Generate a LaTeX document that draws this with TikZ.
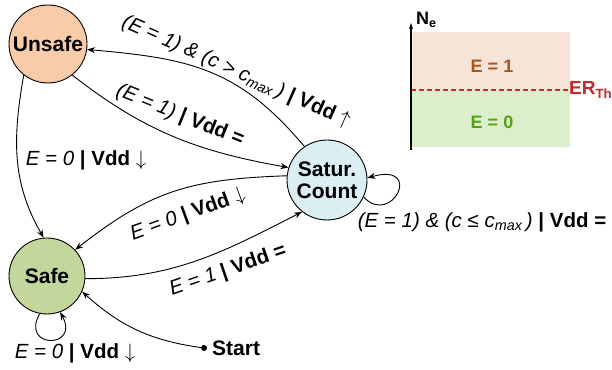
\documentclass[tikz,border=0pt]{standalone}
\usepackage{fontspec}
\setmainfont{Liberation Sans}
\usetikzlibrary{arrows.meta}
\definecolor{unsafec}{HTML}{FACBA9}
\definecolor{safec}{HTML}{C3D69B}
\definecolor{saturc}{HTML}{DBEEF4}
\definecolor{topreg}{HTML}{F7E4D8}
\definecolor{botreg}{HTML}{DCEFCC}
\definecolor{brownt}{HTML}{A5561C}
\definecolor{greent}{HTML}{55A014}
\definecolor{redt}{HTML}{C8282A}
\tikzset{
  state/.style={circle,draw=black,line width=0.9pt,font=\fontsize{21}{24}\selectfont\bfseries,align=center,inner sep=0pt},
  edge/.style={line width=0.9pt,-{Stealth[length=8pt,width=6pt]}},
  lbl/.style={font=\fontsize{20.5}{24}\selectfont,inner sep=1pt},
}
\newcommand{\vb}[1]{\textbf{#1}}
\newcommand{\dn}{$\downarrow$}
\newcommand{\upa}{$\uparrow$}
\begin{document}
\begin{tikzpicture}[x=1pt,y=1pt]
\useasboundingbox (0,0) rectangle (612,369);
% states
\node[state,fill=unsafec,minimum size=78pt] (uns) at (48,325) {Unsafe};
\node[state,fill=safec,minimum size=76pt] (safe) at (47,93) {Safe};
\node[state,fill=saturc,minimum size=80pt] (sat) at (327,189) {Satur.\\[-2pt]Count};
\node[circle,fill=black,inner sep=0pt,minimum size=6pt] (st) at (204,21) {};
\node[anchor=west,font=\fontsize{21}{24}\selectfont\bfseries,inner sep=0pt] (stl) at (212,21) {Start};
% edges
\draw[edge] (sat.124) to[out=130,in=-5,looseness=1.1] (uns.-8);
\draw[edge] (uns.-52) to[out=-38,in=170] (sat.162);
\draw[edge] (uns.232) to[out=-100,in=120] (safe.95);
\draw[edge] (sat.174) to[out=182,in=38,looseness=1.1] (safe.43);
\draw[edge] (safe.-4) to[out=0,in=207] (sat.232);
\draw[edge] (sat.-25) .. controls (392,142) and (424,207) .. (sat.3);
\draw[edge] (safe.-101) .. controls (20,20) and (80,20) .. (safe.-70);
\draw[edge] (st) to[out=172,in=-42] (safe.-24);
% labels
\node[lbl,rotate=-24] (l1) at (236,297) {\itshape(E = 1) \& (c > c\textsubscript{max}\,)\upshape\ \vb{| Vdd} \upa};
\node[lbl,rotate=-22] (l2) at (180,253) {\itshape(E = 1)\upshape\ \vb{| Vdd =}};
\node[lbl] (l3) at (86,209) {\itshape E = 0\upshape\ \vb{| Vdd} \dn};
\node[lbl,rotate=20] (l4) at (188,154) {\itshape E = 0\upshape\ \vb{| Vdd} \dn};
\node[lbl,rotate=19] (l5) at (228,98) {\itshape E = 1\upshape\ \vb{| Vdd =}};
\node[lbl] (l6) at (482,147) {\itshape(E = 1) \& (c ≤ c\textsubscript{max}\,)\upshape\ \vb{| Vdd =}};
\node[lbl] (l7) at (75,16) {\itshape E = 0\upshape\ \vb{| Vdd} \dn};
% right panel
\fill[topreg] (411,279) rectangle (570,337);
\fill[botreg] (411,222) rectangle (570,279);
\draw[redt,line width=1.2pt,dash pattern=on 5pt off 3pt] (411,279) -- (570,279);
\coordinate (ax0) at (411,219);
\coordinate (ax1) at (411,346);
\draw[line width=1.4pt,-{Stealth[length=6pt,width=4pt]}] (ax0) -- (ax1);
\node[anchor=west,inner sep=0pt,font=\fontsize{18}{20}\selectfont\bfseries] (ne) at (416,349) {N\textsubscript{e}};
\node[font=\fontsize{18}{20}\selectfont\bfseries,text=brownt] (e1) at (492,303) {E = 1};
\node[font=\fontsize{18}{20}\selectfont\bfseries,text=greent] (e0) at (492,247) {E = 0};
\node[anchor=west,inner sep=0pt,font=\fontsize{19}{20}\selectfont\bfseries,text=redt] (er) at (569,279) {ER\textsubscript{Th}};
\end{tikzpicture}
\end{document}
